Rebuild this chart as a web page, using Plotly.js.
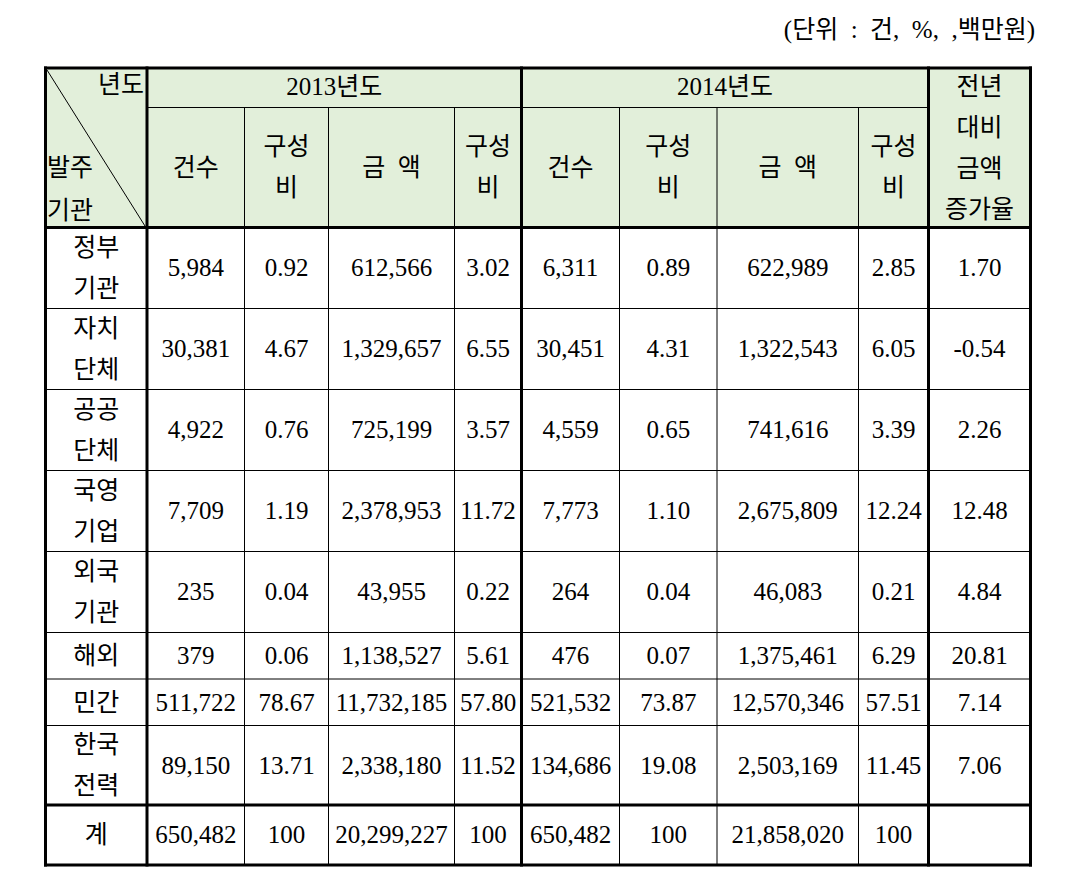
<!DOCTYPE html>
<html>
<head>
<meta charset="utf-8">
<script src="https://cdn.plot.ly/plotly-3.0.1.min.js"></script>
<style>
  body { margin: 0; background: #fff; }
  #chart { width: 1078px; height: 886px; }
</style>
</head>
<body>
<div id="chart"></div>
<script>
// 발주기관별 실적 (단위 : 건, %, 백만원)
const orgs = ["정부|기관", "자치|단체", "공공|단체", "국영|기업", "외국|기관", "해외", "민간", "한국|전력", "계"];

const count2013 = [5984, 30381, 4922, 7709, 235, 379, 511722, 89150, 650482];
const cntShare2013 = [0.92, 4.67, 0.76, 1.19, 0.04, 0.06, 78.67, 13.71, 100];
const amount2013 = [612566, 1329657, 725199, 2378953, 43955, 1138527, 11732185, 2338180, 20299227];
const amtShare2013 = [3.02, 6.55, 3.57, 11.72, 0.22, 5.61, 57.80, 11.52, 100];

const count2014 = [6311, 30451, 4559, 7773, 264, 476, 521532, 134686, 650482];
const cntShare2014 = [0.89, 4.31, 0.65, 1.10, 0.04, 0.07, 73.87, 19.08, 100];
const amount2014 = [622989, 1322543, 741616, 2675809, 46083, 1375461, 12570346, 2503169, 21858020];
const amtShare2014 = [2.85, 6.05, 3.39, 12.24, 0.21, 6.29, 57.51, 11.45, 100];

const growth = [1.70, -0.54, 2.26, 12.48, 4.84, 20.81, 7.14, 7.06, null];

const years = ["2013년도", "2014년도"];
const subHeads = ["건수", "구성|비", "금\u00a0\u00a0액", "구성|비"];
const growthHead = "전년|대비|금액|증가율";
const unitText = "(단위\u00a0\u00a0:\u00a0\u00a0건,\u00a0\u00a0%,\u00a0\u00a0,백만원)";

// 표 격자 위치 (px)
const colEdges = [45.5, 147, 244.5, 328.5, 454.5, 521.5, 619.5, 717, 858.5, 928.5, 1030.5];
const rowEdges = [227.5, 308.5, 389.5, 470.5, 551.5, 632.5, 679, 725.5, 805, 865];
const headTop = 68, headMid = 107.5;
const lineGap = 41;
const dy = 2;

const fmtInt = v => v.toLocaleString("en-US");
const fmtPct = v => v === null ? "" : (v === 100 ? "100" : v.toFixed(2));

const columns = [
  count2013.map(fmtInt), cntShare2013.map(fmtPct), amount2013.map(fmtInt), amtShare2013.map(fmtPct),
  count2014.map(fmtInt), cntShare2014.map(fmtPct), amount2014.map(fmtInt), amtShare2014.map(fmtPct),
  growth.map(fmtPct)
];

const xs = [], ys = [], texts = [], pos = [];
function put(x, y, t, p) {
  xs.push(x); ys.push(y + dy); texts.push(t); pos.push(p || "middle center");
}
// 여러 줄 텍스트는 줄마다 따로 배치
function putLines(x, yc, label) {
  const lines = label.split("|");
  lines.forEach((ln, k) => put(x, yc + (k - (lines.length - 1) / 2) * lineGap, ln));
}
const colMid = j => (colEdges[j] + colEdges[j + 1]) / 2;

// 본문
orgs.forEach((org, i) => {
  const yc = (rowEdges[i] + rowEdges[i + 1]) / 2;
  putLines(colMid(0), yc, org);
  columns.forEach((col, j) => put(colMid(j + 1), yc, col[i]));
});

// 머리글
put(144, 85, "년도", "middle left");
put(47, 168, "발주", "middle right");
put(47, 211, "기관", "middle right");
years.forEach((y, k) => put((colEdges[1 + k * 4] + colEdges[5 + k * 4]) / 2, 87, y));
years.forEach((y, k) => {
  subHeads.forEach((h, j) => putLines(colMid(1 + k * 4 + j), (headMid + rowEdges[0]) / 2, h));
});
putLines(colMid(9), (headTop + rowEdges[0]) / 2, growthHead);
put(1035, 30, unitText, "middle left");

const trace = {
  x: xs, y: ys, text: texts, textposition: pos,
  mode: "text", type: "scatter", hoverinfo: "skip", cliponaxis: false,
  textfont: { family: "Liberation Serif, Noto Sans CJK KR, serif", size: 25, color: "#000" }
};

// 선과 배경
const thin = { color: "#000", width: 1 };
const thick = { color: "#000", width: 3 };
const L = colEdges[0], R = colEdges[colEdges.length - 1], B = rowEdges[rowEdges.length - 1];
const shapes = [
  { type: "rect", x0: L, x1: R, y0: headTop, y1: rowEdges[0], fillcolor: "#e2efda", line: { width: 0 }, layer: "below" },
  { type: "line", x0: 47, y0: 70, x1: 145, y1: 226, line: { color: "#000", width: 1 } },
  { type: "line", x0: colEdges[1], x1: colEdges[9], y0: headMid, y1: headMid, line: thin }
];
rowEdges.slice(1, -2).forEach(y => shapes.push({ type: "line", x0: L, x1: R, y0: y, y1: y, line: thin }));
[2, 3, 4, 6, 7, 8].forEach(j => shapes.push({ type: "line", x0: colEdges[j], x1: colEdges[j], y0: headMid, y1: B, line: thin }));
[headTop, rowEdges[0], rowEdges[8], B].forEach(y => shapes.push({ type: "line", x0: L - 1.5, x1: R + 1.5, y0: y, y1: y, line: thick }));
[0, 1, 5, 9, 10].forEach(j => shapes.push({ type: "line", x0: colEdges[j], x1: colEdges[j], y0: headTop - 1.5, y1: B + 1.5, line: thick }));

const layout = {
  width: 1078, height: 886,
  margin: { l: 0, r: 0, t: 0, b: 0 },
  paper_bgcolor: "#fff", plot_bgcolor: "#fff",
  showlegend: false,
  xaxis: { range: [0, 1078], visible: false, fixedrange: true },
  yaxis: { range: [886, 0], visible: false, fixedrange: true },
  shapes: shapes
};

Plotly.newPlot("chart", [trace], layout, { staticPlot: true });
</script>
</body>
</html>
